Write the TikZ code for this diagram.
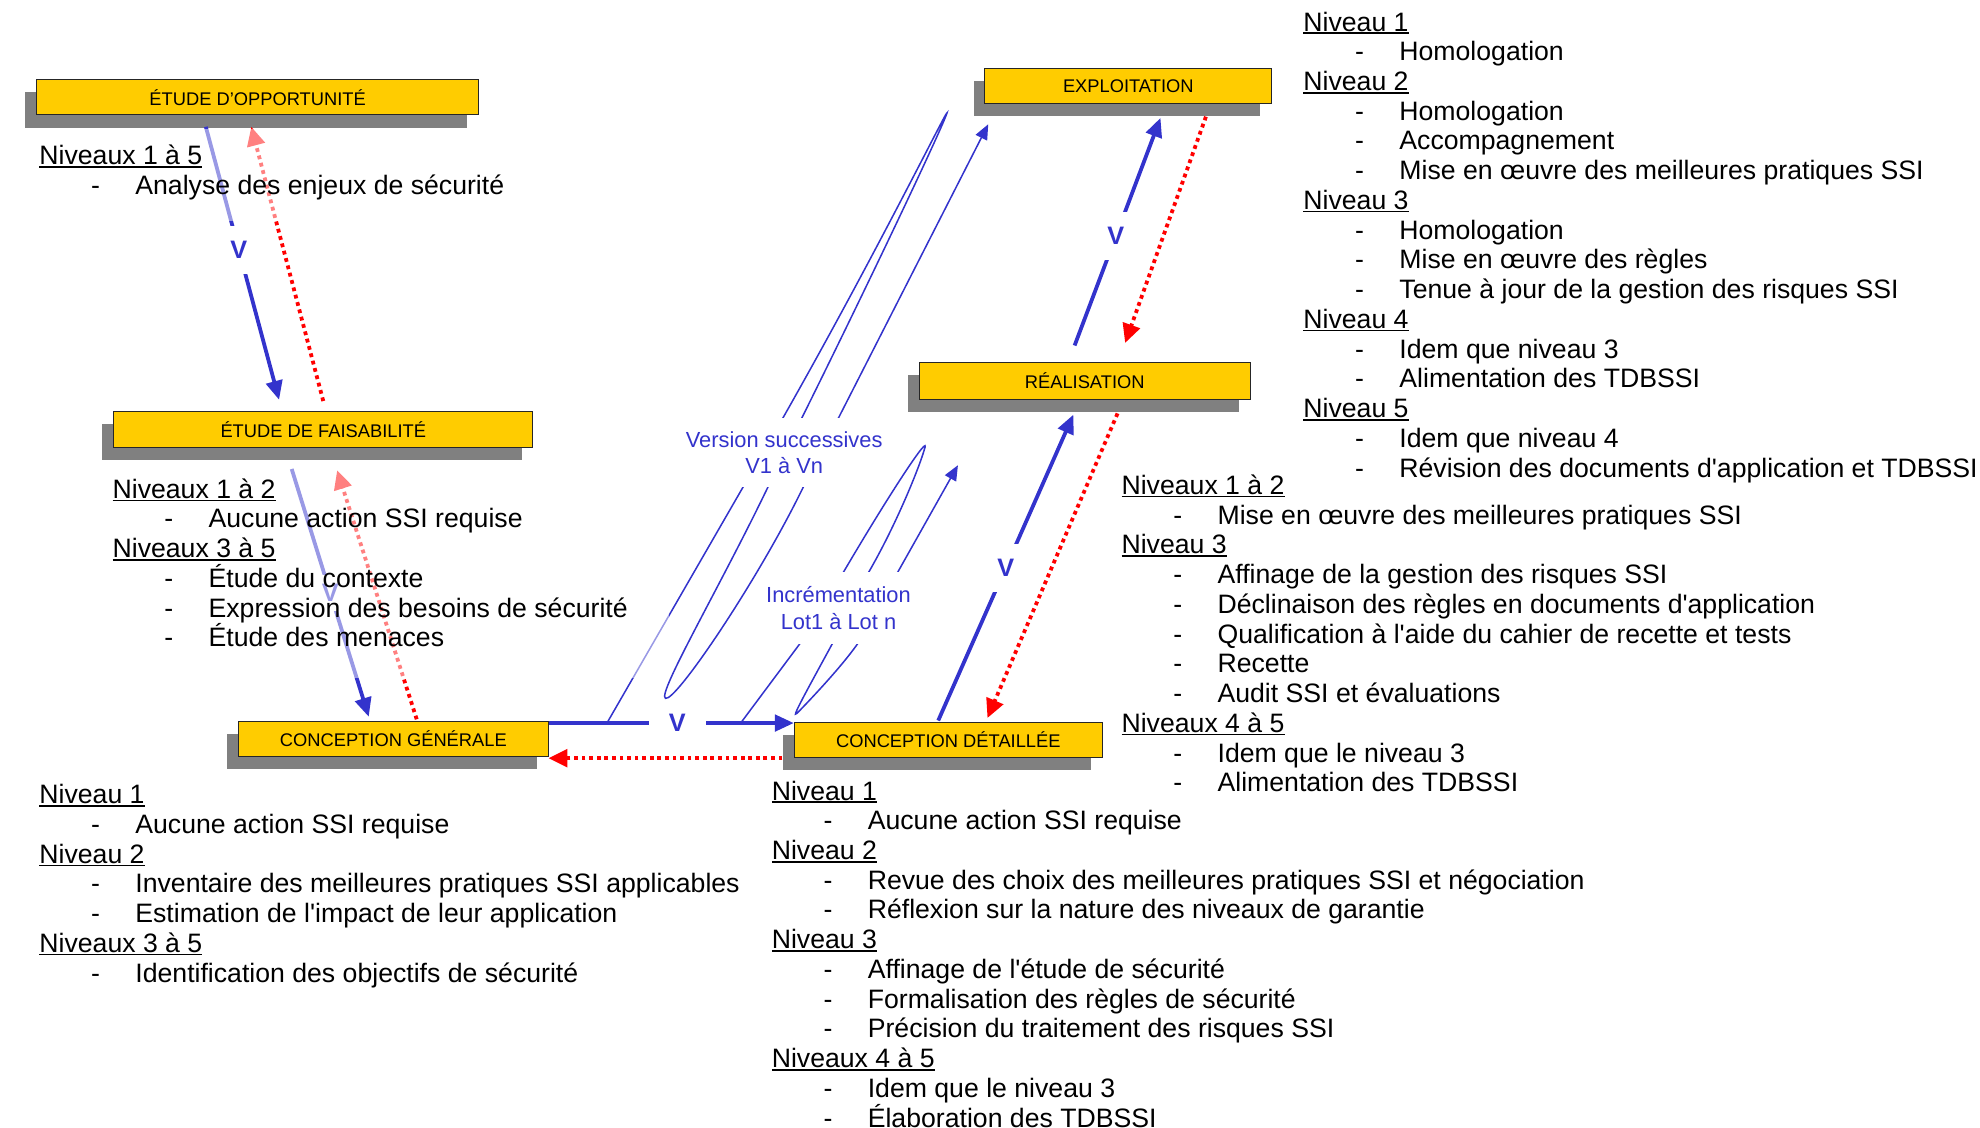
\documentclass[tikz,border=0pt]{standalone}
\usepackage{fontspec}
\setmainfont{Liberation Sans}[Ligatures=TeXOff]
\usetikzlibrary{arrows.meta,shadows}

\definecolor{jaune}{HTML}{FFCC00}
\definecolor{bleu}{HTML}{3333CC}
\definecolor{ombre}{HTML}{808080}

\tikzset{
  phase/.style={draw=black!85, line width=0.8pt, fill=jaune, minimum height=28pt, inner sep=0pt,
    font=\fontsize{14.5}{16}\selectfont,
    drop shadow={shadow xshift=-9pt, shadow yshift=-10pt, fill=ombre, opacity=1}},
  aller/.style={bleu, line width=3pt, -{Triangle[length=15pt,width=13pt]}},
  retour/.style={red, line width=3pt, dash pattern=on 3pt off 3pt, -{Triangle[length=15pt,width=14pt]}},
  vlab/.style={fill=white, text=bleu, font=\fontsize{20}{20}\selectfont\bfseries,
    minimum width=40pt, minimum height=38pt, inner sep=0pt},
  iter/.style={bleu, line width=1.2pt, -{Triangle[length=12pt,width=10pt]}},
  etiq/.style={fill=white, text=bleu, align=center, inner sep=0pt, font=\fontsize{17.3}{21}\selectfont},
  bloc/.style={align=left, inner sep=0pt, font=\fontsize{21.1}{23.55}\selectfont},
  voile/.style={white, opacity=0.5}
}
\newcommand\niv[1]{\setbox0\hbox{#1}\rlap{\rule[-2.4pt]{\wd0}{1.3pt}}\box0}
\newcommand\tiret[1]{\hspace*{41pt}-\hspace*{28pt}#1}

\begin{document}
\begin{tikzpicture}[x=1pt, y=-1pt]
  \useasboundingbox (0,0) rectangle (1568,893);
  % phases
  \node[phase, minimum width=350pt] (opport) at (204,77) {ÉTUDE D’OPPORTUNITÉ};
  \node[phase, minimum width=332pt] (faisab) at (256,340) {ÉTUDE DE FAISABILITÉ};
  \node[phase, minimum width=245pt] (concgen) at (311.5,585) {CONCEPTION GÉNÉRALE};
  \node[phase, minimum width=244pt] (concdet) at (751,586) {CONCEPTION DÉTAILLÉE};
  \node[phase, minimum width=262pt, minimum height=29pt] (realis) at (859,301.5) {RÉALISATION};
  \node[phase, minimum width=227pt] (exploit) at (893.5,68) {EXPLOITATION};
  % validations (aller) et retours
  \draw[aller] ([shift={(-41,9)}]opport.south) -- node[vlab, pos=0.45] {V} ([shift={(-35,-9)}]faisab.north);
  \draw[retour] ([shift={(0,-8)}]faisab.north) -- ([shift={(-5,9)}]opport.south);
  \draw[aller] ([shift={(-25,17)}]faisab.south) -- node[vlab, pos=0.5, minimum height=28pt] {V} ([shift={(-19.5,-3)}]concgen.north);
  \draw[retour] ([shift={(18.5,-1)}]concgen.north) -- ([shift={(11,18)}]faisab.south);
  \draw[aller] ([shift={(0,2)}]concgen.north east) -- node[vlab, pos=0.525, minimum height=20pt, minimum width=45pt] {V} ([shift={(0,1)}]concdet.north west);
  \draw[retour] ([shift={(-9,0)}]concdet.south west) -- ([shift={(0,1)}]concgen.south east);
  \draw[aller] ([shift={(-8,-1)}]concdet.north) -- node[vlab, pos=0.5] {V} ([shift={(-9,12)}]realis.south);
  \draw[retour] ([shift={(26,11)}]realis.south) -- ([shift={(31,-3)}]concdet.north);
  \draw[aller] ([shift={(-8,-13)}]realis.north) -- node[vlab, pos=0.48] {V} ([shift={(25.5,11)}]exploit.south);
  \draw[retour] ([shift={(61.5,10)}]exploit.south) -- ([shift={(32,-15)}]realis.north);
  % versions et increments
  \coordinate (depV) at (481,572);
  \coordinate (finV) at ([shift={(3,16)}]exploit.south west);
  \coordinate (depI) at (587,572);
  \coordinate (finI) at ([shift={(31,52)}]realis.south west);
  \draw[iter] (depV) -- (620,331) .. controls (700,190) and (758,70) .. (749,92)
    .. controls (742,110) and (690,220) .. (635,331) -- (608,386)
    .. controls (570,465) and (520,550) .. (527,553)
    .. controls (535,556) and (600,460) .. (636,386) -- (664,331) -- (finV);
  \draw[iter] (depI) -- (634,509) -- (668,453) .. controls (705,390) and (738,340) .. (732,356)
    .. controls (728,370) and (710,415) .. (688,453) -- (659,510)
    .. controls (640,545) and (626,570) .. (631,565)
    .. controls (636,560) and (665,530) .. (679,510) -- (711,453) -- (finI);
  \node[etiq, minimum height=55pt] (versions) at (621,358.5) {Version successives\\V1 à Vn};
  \node[etiq, minimum height=57pt] (increm) at (664,481.5) {Incrémentation\\Lot1 à Lot n};
  % textes (ancre sur la derniere ligne)
  \fill[voile] (26,102) rectangle (410,175);
  \fill[voile] (85,366) rectangle (530,537);
  \node[bloc, anchor=base west] (txtopport) at (31,154) {\niv{Niveaux 1 à 5}\\
    \tiret{Analyse des enjeux de sécurité}};
  \node[bloc, anchor=base west] (txtfaisab) at (89,512.3) {\niv{Niveaux 1 à 2}\\
    \tiret{Aucune action SSI requise}\\
    \niv{Niveaux 3 à 5}\\
    \tiret{Étude du contexte}\\
    \tiret{Expression des besoins de sécurité}\\
    \tiret{Étude des menaces}};
  \node[bloc, anchor=base west] (txtconcgen) at (31,777.8) {\niv{Niveau 1}\\
    \tiret{Aucune action SSI requise}\\
    \niv{Niveau 2}\\
    \tiret{Inventaire des meilleures pratiques SSI applicables}\\
    \tiret{Estimation de l'impact de leur application}\\
    \niv{Niveaux 3 à 5}\\
    \tiret{Identification des objectifs de sécurité}};
  \node[bloc, anchor=base west] (txtconcdet) at (611,892.6) {\niv{Niveau 1}\\
    \tiret{Aucune action SSI requise}\\
    \niv{Niveau 2}\\
    \tiret{Revue des choix des meilleures pratiques SSI et négociation}\\
    \tiret{Réflexion sur la nature des niveaux de garantie}\\
    \niv{Niveau 3}\\
    \tiret{Affinage de l'étude de sécurité}\\
    \tiret{Formalisation des règles de sécurité}\\
    \tiret{Précision du traitement des risques SSI}\\
    \niv{Niveaux 4 à 5}\\
    \tiret{Idem que le niveau 3}\\
    \tiret{Élaboration des TDBSSI}};
  \node[bloc, anchor=base west] (txtrealis) at (888,627) {\niv{Niveaux 1 à 2}\\
    \tiret{Mise en œuvre des meilleures pratiques SSI}\\
    \niv{Niveau 3}\\
    \tiret{Affinage de la gestion des risques SSI}\\
    \tiret{Déclinaison des règles en documents d'application}\\
    \tiret{Qualification à l'aide du cahier de recette et tests}\\
    \tiret{Recette}\\
    \tiret{Audit SSI et évaluations}\\
    \niv{Niveaux 4 à 5}\\
    \tiret{Idem que le niveau 3}\\
    \tiret{Alimentation des TDBSSI}};
  \node[bloc, anchor=base west] (txtexploit) at (1032,377.8) {\niv{Niveau 1}\\
    \tiret{Homologation}\\
    \niv{Niveau 2}\\
    \tiret{Homologation}\\
    \tiret{Accompagnement}\\
    \tiret{Mise en œuvre des meilleures pratiques SSI}\\
    \niv{Niveau 3}\\
    \tiret{Homologation}\\
    \tiret{Mise en œuvre des règles}\\
    \tiret{Tenue à jour de la gestion des risques SSI}\\
    \niv{Niveau 4}\\
    \tiret{Idem que niveau 3}\\
    \tiret{Alimentation des TDBSSI}\\
    \niv{Niveau 5}\\
    \tiret{Idem que niveau 4}\\
    \tiret{Révision des documents d'application et TDBSSI}};
\end{tikzpicture}
\end{document}
